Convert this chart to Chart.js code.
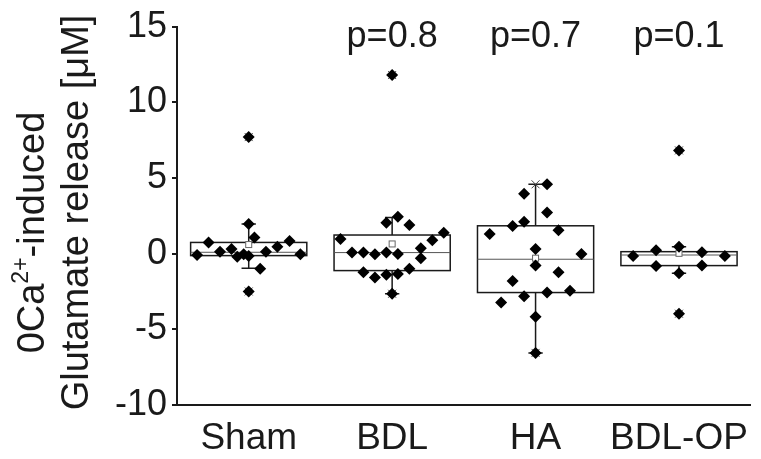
<!DOCTYPE html>
<html>
<head>
<meta charset="utf-8">
<script src="https://cdn.jsdelivr.net/npm/chart.js@4/dist/chart.umd.min.js"></script>
<style>
html,body{margin:0;padding:0;background:#fff;}
canvas{display:block;}
</style>
</head>
<body>
<canvas id="c" width="761" height="459"></canvas>
<script>
// ---- data ----
const categories = ['Sham', 'BDL', 'HA', 'BDL-OP'];
const yTicks = [-10, -5, 0, 5, 10, 15];
const pLabels = ['', 'p=0.8', 'p=0.7', 'p=0.1'];

const shamValues = [7.7, 1.95, 1.07, 0.74, 0.83, 0.46, 0.31, 0.13, 0.13, -0.09, -0.04, -0.2, -0.04, -0.15, -1.0, -2.5];
const shamJitter = [0, 0, 0.04, -0.28, 0.285, 0.2, -0.12, -0.2, 0.12, -0.36, 0.36, -0.08, -0.035, 0, 0.08, 0];

const bdlValues = [11.8, 2.43, 2.04, 1.89, 1.38, 0.97, 0.88, 0.07, 0.07, -0.04, 0.07, -0.02, 0.35, -0.31, -1.23, -1.58, -1.4, -1.34, -1.0, -2.65];
const bdlJitter = [0, 0.04, -0.04, 0.12, 0.36, -0.36, 0.28, -0.28, -0.2, -0.12, -0.04, 0.04, 0.2, 0.2, -0.2, -0.12, -0.04, 0.04, 0.12, 0];

const haValues = [4.58, 3.95, 2.72, 2.1, 1.82, 1.29, 1.54, 0.31, -0.02, -0.79, -1.23, -1.8, -2.81, -2.57, -2.46, -3.22, -4.17, -6.56];
const haJitter = [0.08, -0.08, 0.08, -0.08, -0.16, -0.32, 0.16, 0, 0.32, 0, 0.16, -0.16, -0.08, 0.08, 0.24, -0.24, 0, 0];

const bdlopValues = [6.82, 0.46, 0.22, 0.09, -0.15, -0.15, -0.81, -0.79, -1.3, -3.97];
const bdlopJitter = [0, 0, -0.16, 0.16, -0.32, 0.32, -0.16, 0.16, 0, 0];

// box statistics
const boxQ1 = [-0.13, -1.12, -2.57, -0.79];
const boxQ3 = [0.74, 1.23, 1.84, 0.13];
const boxMedian = [0.09, 0.07, -0.37, -0.09];
const boxMean = [0.6, 0.64, -0.3, 0.02];
const whiskerLow = [-0.97, -2.65, -6.56, -1.3];
const whiskerHigh = [1.95, 2.39, 4.58, 0.46];
const dataMax = [7.7, 11.8, 4.58, 6.82];
const dataMin = [-2.5, -2.65, -6.56, -3.97];

const groups = [
  [shamValues, shamJitter],
  [bdlValues, bdlJitter],
  [haValues, haJitter],
  [bdlopValues, bdlopJitter]
];

const FONT = "'Liberation Sans', Arial, sans-serif";
const INK = '#1a1a1a';

const boxPlugin = {
  id: 'boxPlugin',
  beforeDatasetsDraw(chart) {
    const ctx = chart.ctx;
    const xs = chart.scales.x, ys = chart.scales.y;
    const half = 0.405, cap = 0.05;
    ctx.save();
    for (let i = 0; i < categories.length; i++) {
      const xl = xs.getPixelForValue(i - half);
      const xr = xs.getPixelForValue(i + half);
      const xc = xs.getPixelForValue(i);
      const yq1 = ys.getPixelForValue(boxQ1[i]);
      const yq3 = ys.getPixelForValue(boxQ3[i]);
      const ymed = ys.getPixelForValue(boxMedian[i]);
      const ywl = ys.getPixelForValue(whiskerLow[i]);
      const ywh = ys.getPixelForValue(whiskerHigh[i]);
      const cl = xs.getPixelForValue(i - cap), cr = xs.getPixelForValue(i + cap);
      ctx.strokeStyle = INK;
      ctx.lineWidth = 1.5;
      ctx.beginPath();
      ctx.moveTo(xc, yq3); ctx.lineTo(xc, ywh);
      ctx.moveTo(xc, yq1); ctx.lineTo(xc, ywl);
      ctx.moveTo(cl, ywh); ctx.lineTo(cr, ywh);
      ctx.moveTo(cl, ywl); ctx.lineTo(cr, ywl);
      ctx.stroke();
      ctx.fillStyle = '#fff';
      ctx.fillRect(xl, yq3, xr - xl, yq1 - yq3);
      ctx.strokeRect(xl, yq3, xr - xl, yq1 - yq3);
      ctx.strokeStyle = '#555';
      ctx.lineWidth = 1;
      ctx.beginPath();
      ctx.moveTo(xl, ymed); ctx.lineTo(xr, ymed);
      ctx.stroke();
      const ym = ys.getPixelForValue(boxMean[i]);
      ctx.fillStyle = '#fff';
      ctx.fillRect(xc - 3, ym - 3, 6, 6);
      ctx.strokeStyle = '#666';
      ctx.strokeRect(xc - 3, ym - 3, 6, 6);
      ctx.strokeStyle = '#444';
      ctx.lineWidth = 1;
      [dataMax[i], dataMin[i]].forEach(v => {
        const y = ys.getPixelForValue(v);
        ctx.beginPath();
        ctx.moveTo(xc - 4, y - 4); ctx.lineTo(xc + 4, y + 4);
        ctx.moveTo(xc - 4, y + 4); ctx.lineTo(xc + 4, y - 4);
        ctx.stroke();
      });
    }
    ctx.restore();
  },
  afterDraw(chart) {
    const ctx = chart.ctx;
    const xs = chart.scales.x;
    ctx.save();
    ctx.fillStyle = INK;
    ctx.font = '36px ' + FONT;
    ctx.textAlign = 'center';
    ctx.textBaseline = 'alphabetic';
    pLabels.forEach((t, i) => {
      if (t) ctx.fillText(t, xs.getPixelForValue(i), 47);
    });
    ctx.save();
    ctx.translate(88, 212.5);
    ctx.rotate(-Math.PI / 2);
    ctx.font = '38px ' + FONT;
    ctx.textAlign = 'center';
    ctx.fillText('Glutamate release [\u03BCM]', 0, 0);
    ctx.restore();
    ctx.save();
    ctx.translate(44, 232.5);
    ctx.rotate(-Math.PI / 2);
    ctx.textAlign = 'left';
    const big = '38px ' + FONT, small = '23px ' + FONT;
    ctx.font = big; const w1 = ctx.measureText('0Ca').width;
    ctx.font = small; const w2 = ctx.measureText('2+').width;
    ctx.font = big; const w3 = ctx.measureText('-induced').width;
    let x = -(w1 + w2 + w3) / 2;
    ctx.font = big; ctx.fillText('0Ca', x, 0); x += w1;
    ctx.font = small; ctx.fillText('2+', x, -16); x += w2;
    ctx.font = big; ctx.fillText('-induced', x, 0);
    ctx.restore();
    ctx.restore();
  }
};

const datasets = groups.map(([vals, jit], gi) => ({
  label: categories[gi],
  data: vals.map((v, k) => ({ x: gi + jit[k], y: v })),
  pointStyle: 'rectRot',
  pointRadius: 6,
  pointHoverRadius: 6,
  backgroundColor: '#000',
  borderColor: '#000',
  borderWidth: 0,
  showLine: false
}));

new Chart(document.getElementById('c'), {
  type: 'scatter',
  data: { datasets },
  plugins: [boxPlugin],
  options: {
    responsive: false,
    animation: false,
    devicePixelRatio: 1,
    layout: { padding: { top: 24, right: 9, left: 0, bottom: 0 } },
    plugins: { legend: { display: false }, tooltip: { enabled: false } },
    scales: {
      x: {
        type: 'linear',
        min: -0.5, max: 3.5,
        afterBuildTicks: s => { s.ticks = categories.map((c, i) => ({ value: i })); },
        afterFit: s => { s.height = 54; },
        grid: { display: true, drawOnChartArea: false, drawTicks: false },
        border: { display: true, color: INK, width: 2 },
        ticks: {
          autoSkip: false, maxRotation: 0, padding: 12,
          color: INK,
          font: { family: FONT, size: 37 },
          callback: v => categories[v] ?? ''
        }
      },
      y: {
        min: -10, max: 15,
        afterBuildTicks: s => { s.ticks = yTicks.map(v => ({ value: v })); },
        afterFit: s => { s.width = 177; },
        grid: { display: true, drawOnChartArea: false, drawTicks: true, tickLength: 5, color: INK, lineWidth: 2 },
        border: { display: true, color: INK, width: 2 },
        ticks: {
          padding: 5,
          color: INK,
          font: { family: FONT, size: 36 }
        }
      }
    }
  }
});
</script>
</body>
</html>
